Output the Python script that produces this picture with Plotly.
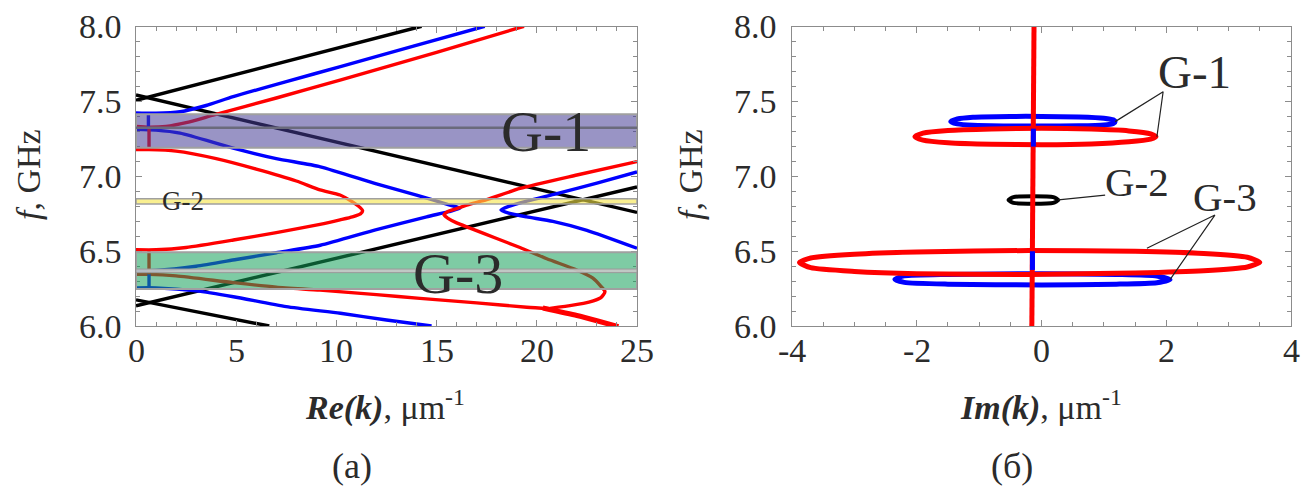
import plotly.graph_objects as go

# ---------------- data ----------------
# Left panel: Re(k) [um^-1] vs f [GHz]
blk1_k = [0, 14.25]; blk1_f = [7.51, 8.005]
blk2_k = [0, 25]; blk2_f = [7.545, 6.76]
blk3_k = [0, 25]; blk3_f = [6.135, 6.93]
blk4_k = [0, 6.65]; blk4_f = [6.175, 6.0]

blu1_k = [0, 1, 2.2, 3.5, 4.85, 7.5, 10.2, 13.8, 17.4]
blu1_f = [7.425, 7.423, 7.433, 7.475, 7.534, 7.635, 7.735, 7.87, 8.005]
blu2_k = [0, 1, 2.2, 4.85, 7, 9.2, 12, 14, 15.5, 16.17, 15.6, 14.5, 12, 9.2, 7, 5, 3, 1, 0]
blu2_f = [7.315, 7.31, 7.29, 7.19, 7.12, 7.065, 6.95, 6.875, 6.815, 6.787, 6.765, 6.73, 6.645, 6.54, 6.49, 6.445, 6.40, 6.372, 6.37]
blu3_k = [25, 23, 21, 19.5, 18.6, 18.21, 18.6, 19.5, 20.8, 22.5, 25]
blu3_f = [7.03, 6.955, 6.885, 6.835, 6.80, 6.776, 6.755, 6.73, 6.70, 6.64, 6.52]
blu4_k = [0, 1, 3, 4.86, 7.5, 10.2, 12.5, 14.75]
blu4_f = [6.255, 6.255, 6.235, 6.196, 6.13, 6.085, 6.04, 6.0]

red1_k = [0, 0.65, 1.5, 2.5, 3.85, 7, 10.18, 15, 19.36]
red1_f = [7.335, 7.33, 7.335, 7.36, 7.41, 7.525, 7.645, 7.83, 8.005]
red2_k = [0, 0.65, 2, 4, 6, 8, 9.18, 10.18, 10.8, 11.2, 11.31, 11.2, 10.8, 10.18, 9.18, 7, 4.86, 2.5, 1, 0]
red2_f = [7.18, 7.18, 7.17, 7.12, 7.05, 6.97, 6.91, 6.876, 6.83, 6.79, 6.771, 6.75, 6.73, 6.71, 6.68, 6.625, 6.575, 6.525, 6.51, 6.51]
red3_k = [25, 22, 19.16, 17.5, 16.67, 16.0, 15.55, 15.37, 15.55, 16.0, 16.67, 18, 19.16, 20.5, 21.99, 22.8, 23.2, 23.4, 23.2, 22.6, 21.8, 20.66]
red3_f = [7.10, 7.01, 6.92, 6.845, 6.815, 6.785, 6.765, 6.742, 6.722, 6.69, 6.655, 6.585, 6.525, 6.45, 6.375, 6.32, 6.265, 6.23, 6.19, 6.16, 6.14, 6.118]
red4_k = [0, 0.65, 2, 4.86, 7, 9.18, 12, 14.17, 17, 19.5, 20.66]
red4_f = [6.345, 6.345, 6.335, 6.29, 6.26, 6.24, 6.21, 6.185, 6.155, 6.125, 6.116]
red5_k = [20.3, 22, 23, 24.07]
red5_f = [6.12, 6.07, 6.035, 5.995]

vblu_k = [[0.62, 0.62], [0.65, 0.65]]
vblu_f = [[7.425, 7.315], [6.37, 6.255]]
vred_k = [[0.65, 0.65], [0.65, 0.65]]
vred_f = [[7.335, 7.18], [6.51, 6.345]]

# bands (f ranges)
g1_band = [7.193, 7.416]; g1_mid = 7.326
g2_band = [6.816, 6.852]
g3_band = [6.247, 6.493]; g3_mid = [6.357, 6.381]

# Right panel: Im(k) [um^-1] vs f [GHz]
bl_g1_i = [-1.455, -1.35, -1.1, -0.5, 0, 0.6, 1.0, 1.15, 1.18, 1.15, 1.0, 0.6, 0, -0.5, -1.1, -1.35, -1.455]
bl_g1_f = [7.367, 7.385, 7.397, 7.402, 7.402, 7.398, 7.39, 7.379, 7.367, 7.355, 7.345, 7.339, 7.337, 7.338, 7.343, 7.352, 7.367]
rd_g1_i = [-2.03, -1.9, -1.5, -0.8, 0, 0.8, 1.4, 1.75, 1.835, 1.75, 1.4, 0.8, 0, -0.8, -1.5, -1.9, -2.03]
rd_g1_f = [7.266, 7.29, 7.308, 7.318, 7.322, 7.317, 7.305, 7.285, 7.266, 7.25, 7.232, 7.218, 7.213, 7.215, 7.225, 7.243, 7.266]
bk_g2_i = [-0.53, -0.45, -0.13, 0.19, 0.27, 0.19, -0.13, -0.45, -0.53]
bk_g2_f = [6.843, 6.862, 6.868, 6.862, 6.843, 6.824, 6.818, 6.824, 6.843]
rd_g3_i = [-3.88, -3.7, -3.0, -2, -0.2, 1.5, 2.6, 3.3, 3.5, 3.3, 2.6, 1.5, -0.2, -2, -3.0, -3.7, -3.88]
rd_g3_f = [6.425, 6.455, 6.48, 6.495, 6.505, 6.50, 6.485, 6.46, 6.426, 6.395, 6.37, 6.355, 6.345, 6.35, 6.365, 6.39, 6.425]
bl_g3_i = [-2.35, -2.2, -1.5, 0, 1.2, 1.85, 2.06, 1.85, 1.2, 0, -1.5, -2.2, -2.35]
bl_g3_f = [6.312, 6.335, 6.345, 6.35, 6.345, 6.335, 6.31, 6.29, 6.28, 6.275, 6.28, 6.292, 6.312]
vline_i = [-0.12, -0.155]; vline_f = [8.01, 5.99]
vbl_i = [[-0.13, -0.13], [-0.145, -0.145]]
vbl_f = [[7.20, 7.32], [6.375, 6.50]]

# leader lines for labels (Im, f)
lead_g1_i = [1.18, 1.95, 1.85]; lead_g1_f = [7.367, 7.567, 7.266]
lead_g2_i = [0.27, 1.02]; lead_g2_f = [6.843, 6.876]
lead_g3_i = [1.69, 2.78, 2.06]; lead_g3_f = [6.52, 6.742, 6.31]

# tick labels
left_x_ticks = [0, 5, 10, 15, 20, 25]
left_x_text = ["0", "5", "10", "15", "20", "25"]
right_x_ticks = [-4, -2, 0, 2, 4]
right_x_text = ["-4", "-2", "0", "2", "4"]
y_ticks = [6.0, 6.5, 7.0, 7.5, 8.0]
y_text = ["6.0", "6.5", "7.0", "7.5", "8.0"]

# ---------------- figure ----------------
W, H = 1316, 488
RED, BLUE, BLACK = "#ff0000", "#0000ff", "#000000"
FONT = "Liberation Serif"
TXT = "#2b2b2b"
AX = "#8c8c8c"
LW = 3.4

fig = go.Figure()

def add(x, y, color, width=LW, xa="x", ya="y", shape="spline"):
    fig.add_trace(go.Scatter(x=x, y=y, mode="lines", xaxis=xa, yaxis=ya,
                             line=dict(color=color, width=width, shape=shape, smoothing=0.6),
                             hoverinfo="skip", showlegend=False))

# left panel
for kx, fy in [(blk1_k, blk1_f), (blk2_k, blk2_f), (blk3_k, blk3_f), (blk4_k, blk4_f)]:
    add(kx, fy, BLACK, shape="linear")
for kx, fy in [(blu1_k, blu1_f), (blu2_k, blu2_f), (blu3_k, blu3_f), (blu4_k, blu4_f)]:
    add(kx, fy, BLUE)
for kx, fy in [(red1_k, red1_f), (red2_k, red2_f), (red3_k, red3_f), (red4_k, red4_f)]:
    add(kx, fy, RED)
add(red5_k, red5_f, RED, width=5)
for kx, fy in zip(vblu_k, vblu_f):
    add(kx, fy, BLUE, shape="linear")
for kx, fy in zip(vred_k, vred_f):
    add(kx, fy, RED, shape="linear")

# right panel
add(bl_g1_i, bl_g1_f, BLUE, 5, "x2", "y2")
add(bl_g3_i, bl_g3_f, BLUE, 5, "x2", "y2")
add(rd_g1_i, rd_g1_f, RED, 5, "x2", "y2")
add(rd_g3_i, rd_g3_f, RED, 5, "x2", "y2")
add(bk_g2_i, bk_g2_f, BLACK, 4, "x2", "y2")
add(vline_i, vline_f, RED, 5, "x2", "y2", shape="linear")
for ix, fy in zip(vbl_i, vbl_f):
    add(ix, fy, BLUE, 5, "x2", "y2", shape="linear")
for ix, fy in [(lead_g1_i, lead_g1_f), (lead_g2_i, lead_g2_f), (lead_g3_i, lead_g3_f)]:
    add(ix, fy, "#222222", 1.2, "x2", "y2", shape="linear")

# bands (drawn above the curves, semi-transparent)
shapes = []
def band(y0, y1, fill, border="#a0a0a0", bw=2):
    shapes.append(dict(type="rect", xref="x", yref="y", x0=0, x1=25, y0=y0, y1=y1,
                       fillcolor=fill, line=dict(color=border, width=bw), layer="above"))
band(g1_band[0], g1_band[1], "rgba(70,60,150,0.55)")
shapes.append(dict(type="line", xref="x", yref="y", x0=0, x1=25, y0=g1_mid, y1=g1_mid,
                   line=dict(color="#6a6a7c", width=2.5), layer="above"))
band(g2_band[0], g2_band[1], "rgba(245,228,70,0.6)", bw=1.5)
band(g3_band[0], g3_band[1], "rgba(20,160,90,0.55)")
band(g3_mid[0], g3_mid[1], "rgba(200,200,200,0.9)", border="#9a9a9a", bw=1)

annotations = []
def px(x): return x / W
def py(y): return 1 - y / H
def note(text, x, y, size, angle=0, xref="paper", yref="paper", xanchor="center"):
    annotations.append(dict(text=text, x=x, y=y, xref=xref, yref=yref, showarrow=False,
                            textangle=angle, xanchor=xanchor, yanchor="middle",
                            font=dict(family=FONT, size=size, color=TXT)))

note("G-1", 20.46, 7.30, 58, xref="x", yref="y")
note("G-3", 16.07, 6.354, 58, xref="x", yref="y")
note("G-2", 2.35, 6.833, 27, xref="x", yref="y")
note("G-1", 2.46, 7.70, 47, xref="x2", yref="y2")
note("G-2", 1.53, 6.96, 41, xref="x2", yref="y2")
note("G-3", 2.94, 6.86, 41, xref="x2", yref="y2")

note("<i>f</i>, GHz", px(28), py(175), 34, angle=-90)
note("<i>f</i>, GHz", px(690), py(175), 34, angle=-90)
note("<b><i>Re(k)</i></b>, μm<sup>-1</sup>", px(385), py(405), 34)
note("<b><i>Im(k)</i></b>, μm<sup>-1</sup>", px(1041), py(405), 34)
note("(a)", px(352), py(466), 36)
note("(б)", px(1012), py(466), 36)

# tick labels placed on the axis scales
for v, t in zip(left_x_ticks, left_x_text):
    note(t, v, py(350), 34, xref="x", yref="paper")
for v, t in zip(right_x_ticks, right_x_text):
    note(t, v, py(350), 34, xref="x2", yref="paper")
for v, t in zip(y_ticks, y_text):
    note(t, px(124), v, 34, xref="paper", yref="y", xanchor="right")
    note(t, px(779), v, 34, xref="paper", yref="y2", xanchor="right")

def axis(**kw):
    d = dict(showline=True, linecolor=AX, linewidth=1, mirror="allticks",
             ticks="inside", ticklen=6, tickcolor=AX, showgrid=False, zeroline=False,
             tickmode="array", showticklabels=False, automargin=False)
    d.update(kw)
    return d

fig.update_layout(
    width=W, height=H, autosize=False, margin=dict(l=0, r=0, t=0, b=0, pad=0, autoexpand=False),
    font=dict(family=FONT, size=20, color=TXT),
    paper_bgcolor="white", plot_bgcolor="white", showlegend=False,
    shapes=shapes, annotations=annotations,
    xaxis=axis(domain=[136 / W, 637 / W], range=[0, 25], tickvals=left_x_ticks,
               minor=dict(dtick=1, tick0=0, ticks="inside", ticklen=4, tickcolor=AX),
               anchor="y"),
    yaxis=axis(domain=[162 / H, 461 / H], range=[6, 8], tickvals=y_ticks,
               minor=dict(dtick=0.1, tick0=6, ticks="inside", ticklen=4, tickcolor=AX),
               anchor="x"),
    xaxis2=axis(domain=[792 / W, 1291 / W], range=[-4, 4], tickvals=right_x_ticks,
                minor=dict(dtick=0.5, tick0=0, ticks="inside", ticklen=4, tickcolor=AX),
                anchor="y2"),
    yaxis2=axis(domain=[162 / H, 461 / H], range=[6, 8], tickvals=y_ticks,
                minor=dict(dtick=0.1, tick0=6, ticks="inside", ticklen=4, tickcolor=AX),
                anchor="x2"),
)

fig.write_html("out.html")
